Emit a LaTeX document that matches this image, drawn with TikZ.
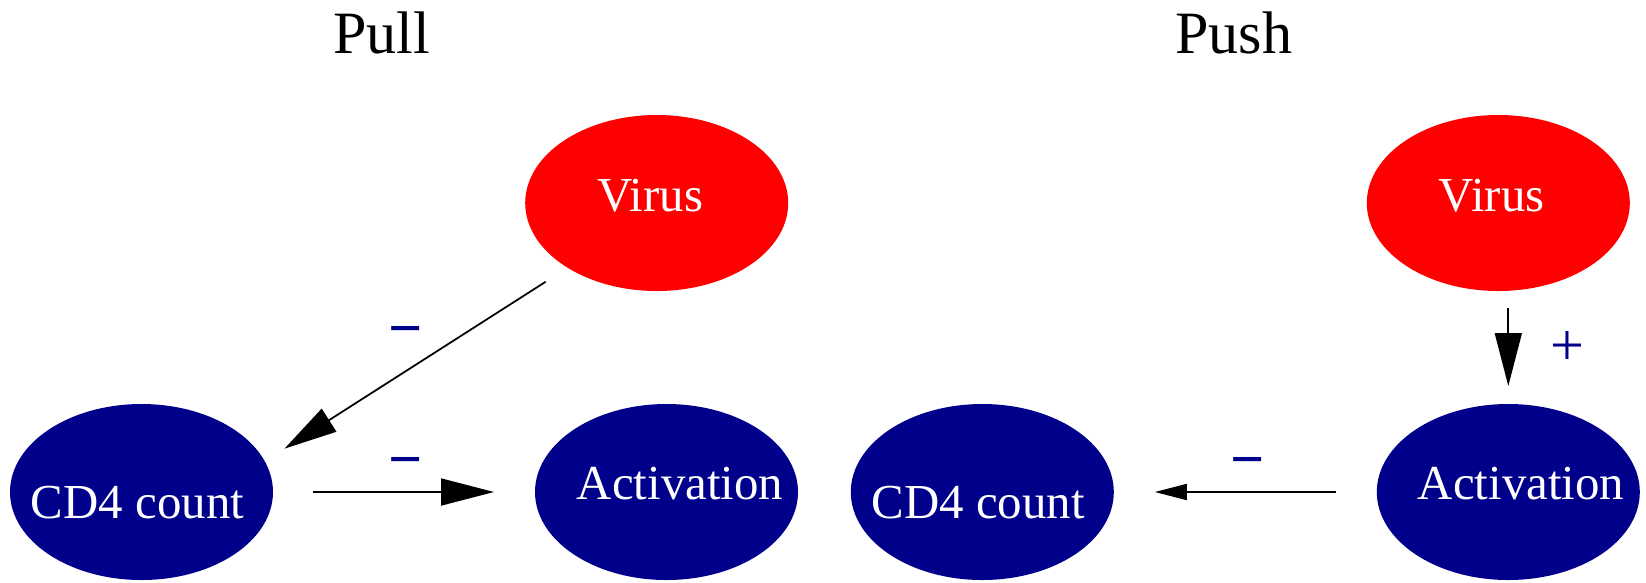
\documentclass[tikz,border=0pt]{standalone}
\usepackage{fontspec}
\setmainfont{Liberation Serif}
\usepackage{xcolor}
\usetikzlibrary{arrows.meta, shapes.geometric}

\definecolor{navyblue}{RGB}{0,0,139}

\begin{document}
\begin{tikzpicture}[auto, >={Triangle[length=0.53cm, width=0.27cm]}, line width=0.5pt]
		\tikzstyle{blob} = [ellipse, draw=none, minimum width=2.63cm, minimum height=1.76cm, inner sep=0pt, outer sep=0pt]
		\tikzstyle{virus} = [blob, fill=red]
		\tikzstyle{cell} = [blob, fill=navyblue]
		\tikzstyle{txt} = [text=white, inner sep=0pt, font=\fontsize{13.9}{16}\selectfont]
		\tikzstyle{invis} = [draw=none, anchor=base, inner sep=0pt, font=\fontsize{17.1}{20}\selectfont]
		\tikzstyle{sign} = [invis, text=navyblue]
		
		\useasboundingbox (0, 0) rectangle (16.46, 5.82);
		
		\node[invis]	at (3.817, 5.287)	(pull)	{Pull};
		\node[invis]	at (12.338, 5.287)	(push)	{Push};
		
		% pull
		\node[virus, label={[txt, xshift=-0.064cm, yshift=0.077cm]center:Virus}]	at (6.567, 3.79)	(virus1)	{};
		\node[cell, label={[txt, xshift=-0.04cm, yshift=-0.106cm]center:CD4 count}]	at (1.415, 0.90)	(cd41)	{};
		\node[cell, label={[txt, xshift=0.135cm, yshift=0.08cm]center:Activation}]	at (6.665, 0.90)	(act1)	{};
		\node[sign, font=\fontsize{17.1}{20}\selectfont\bfseries]	at (4.055, 2.335)	(minus1)	{−};
		\node[sign, font=\fontsize{17.1}{20}\selectfont\bfseries]	at (4.055, 1.025)	(minus2)	{−};
		
		% push
		\node[virus, label={[txt, xshift=-0.066cm, yshift=0.077cm]center:Virus}]	at (14.983, 3.79)	(virus2)	{};
		\node[cell, label={[txt, xshift=-0.04cm, yshift=-0.106cm]center:CD4 count}]	at (9.823, 0.90)	(cd42)	{};
		\node[cell, label={[txt, xshift=0.127cm, yshift=0.08cm]center:Activation}]	at (15.083, 0.90)	(act2)	{};
		\node[sign, font=\fontsize{17.1}{20}\selectfont\bfseries]	at (12.475, 1.028)	(minus3)	{−};
		\node[sign]	at (15.673, 2.17)	(plus1)	{+};
		
		\path[->]
		(virus1.216)	edge[shorten <=0.26cm, shorten >=0.234cm]	(cd41.14)
		(cd41)	edge[shorten <=0.40cm, shorten >=0.41cm]	(act1)
		(virus2.south -| act2)	edge[shorten <=0.17cm, shorten >=0.18cm]	(act2.north)
		(act2)	edge[-{Triangle[length=0.32cm, width=0.16cm]}, shorten <=0.41cm, shorten >=0.41cm]	(cd42);
		\end{tikzpicture}
\end{document}
